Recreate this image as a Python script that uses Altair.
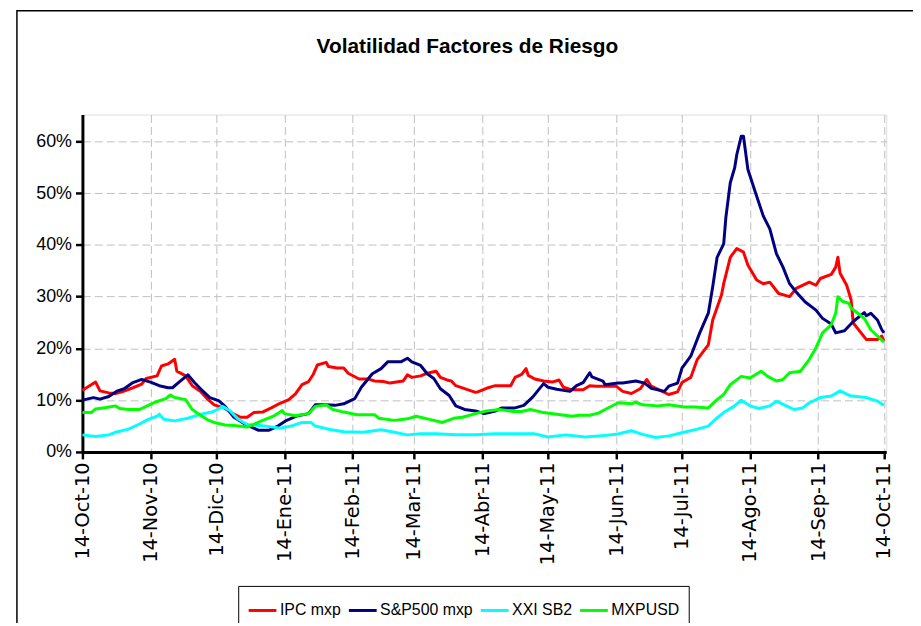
import altair as alt
import pandas as pd

START = "2010-10-14"
END_DOMAIN = "2011-10-15"
TITLE = "Volatilidad Factores de Riesgo"
SERIES = ["IPC mxp", "S&P500 mxp", "XXI SB2", "MXPUSD"]
COLORS = ["#FF0000", "#000080", "#00FFFF", "#00FF00"]
TICK_DATES = ["2010-10-14", "2010-11-14", "2010-12-14", "2011-01-14", "2011-02-14",
              "2011-03-14", "2011-04-14", "2011-05-14", "2011-06-14", "2011-07-14",
              "2011-08-14", "2011-09-14", "2011-10-14"]
Y_TICKS = [0, 0.1, 0.2, 0.3, 0.4, 0.5, 0.6]

# days since 14-Oct-2010, volatility in %
ipc_days = [0, 6, 8, 12, 15, 18, 23, 27, 29, 34, 36, 39, 42, 43, 47, 50, 54, 57, 60, 65,
            69, 72, 75, 78, 82, 86, 90, 94, 97, 100, 103, 105, 107, 111, 112, 116, 119, 121, 126, 130,
            133, 137, 140, 146, 148, 150, 154, 157, 161, 163, 166, 168, 170, 175, 179, 180, 184, 188, 195, 197,
            200, 202, 203, 206, 210, 214, 217, 219, 223, 228, 231, 234, 238, 243, 246, 250, 254, 257, 259, 264,
            267, 271, 273, 277, 280, 285, 287, 291, 292, 295, 298, 301, 303, 307, 310, 313, 317, 322, 325, 331,
            334, 336, 341, 343, 344, 345, 348, 350, 351, 354, 357, 362, 364, 365]
ipc_vals = [11.9, 13.5, 11.8, 11.4, 11.3, 11.6, 12.4, 13.1, 14.2, 14.7, 16.6, 17.0, 17.9, 15.6, 14.7, 12.8, 11.6, 10.2, 9.1, 8.4,
            7.3, 6.7, 6.7, 7.6, 7.7, 8.5, 9.4, 10.1, 11.2, 13.0, 13.6, 14.9, 16.8, 17.3, 16.5, 16.2, 16.2, 15.2, 14.1, 14.1,
            13.7, 13.6, 13.3, 13.7, 14.9, 14.4, 14.7, 15.2, 15.6, 14.4, 13.9, 13.7, 12.8, 12.1, 11.5, 11.6, 12.3, 12.8, 12.8, 14.4,
            15.0, 16.1, 14.8, 14.1, 13.7, 13.5, 13.9, 12.5, 12.0, 12.0, 12.8, 12.7, 12.7, 12.7, 11.7, 11.3, 12.2, 14.0, 12.7, 11.7,
            11.1, 11.6, 13.4, 14.4, 17.9, 20.7, 25.5, 30.3, 32.5, 37.6, 39.3, 38.6, 36.1, 33.2, 32.5, 32.8, 30.6, 30.0, 31.6, 32.8,
            32.2, 33.5, 34.3, 35.7, 37.6, 34.5, 32.2, 29.4, 24.9, 23.3, 21.7, 21.7, 22.4, 21.4]

sp_days = [0, 5, 8, 12, 16, 19, 23, 27, 31, 35, 39, 41, 44, 48, 51, 54, 58, 62, 65, 69,
           74, 77, 80, 85, 89, 93, 98, 103, 106, 111, 115, 119, 124, 127, 132, 136, 139, 145, 148, 150,
           154, 157, 160, 163, 167, 170, 174, 179, 183, 188, 191, 197, 201, 205, 210, 212, 216, 222, 225, 228,
           231, 232, 237, 238, 244, 246, 252, 256, 259, 265, 267, 271, 273, 277, 281, 285, 287, 289, 292, 293,
           295, 297, 298, 300, 301, 303, 306, 310, 313, 316, 319, 322, 325, 329, 334, 337, 341, 343, 347, 351,
           356, 357, 359, 362, 364, 365]
sp_vals = [10.0, 10.5, 10.2, 10.7, 11.8, 12.2, 13.4, 14.0, 13.5, 12.8, 12.4, 12.4, 13.5, 14.9, 13.4, 12.1, 10.5, 9.9, 8.8, 6.7,
           5.4, 4.8, 4.2, 4.2, 5.0, 6.1, 7.0, 7.4, 9.1, 9.1, 9.0, 9.3, 10.3, 12.5, 15.1, 16.1, 17.4, 17.4, 18.1, 17.4,
           16.7, 15.1, 14.2, 12.2, 10.9, 8.9, 8.2, 7.9, 7.4, 7.9, 8.5, 8.5, 9.0, 10.6, 13.2, 12.5, 12.1, 11.7, 12.8, 13.4,
           15.3, 14.5, 13.7, 13.0, 13.3, 13.3, 13.7, 13.3, 12.3, 11.7, 12.7, 13.3, 16.2, 18.5, 22.9, 26.8, 31.9, 37.6, 40.2, 45.3,
           52.0, 54.9, 57.5, 61.0, 61.0, 54.6, 50.7, 45.6, 43.1, 38.3, 35.7, 32.5, 30.9, 29.0, 27.4, 25.8, 24.7, 23.0, 23.4, 25.2,
           26.9, 26.3, 26.8, 25.5, 23.6, 23.0]

xxi_days = [0, 6, 12, 15, 21, 26, 30, 34, 35, 37, 42, 48, 54, 59, 62, 64, 67, 71, 75, 83,
            90, 95, 100, 104, 106, 112, 119, 128, 136, 142, 148, 154, 161, 170, 179, 188, 197, 206, 212, 220,
            229, 238, 243, 250, 255, 261, 267, 273, 280, 285, 289, 292, 297, 300, 304, 308, 313, 316, 320, 324,
            328, 331, 336, 341, 345, 350, 357, 362, 365]
xxi_vals = [3.3, 3.0, 3.3, 3.8, 4.4, 5.4, 6.3, 6.9, 7.3, 6.3, 6.0, 6.5, 7.3, 7.7, 8.3, 8.8, 8.0, 6.3, 5.3, 5.0,
            4.6, 5.0, 5.7, 5.7, 5.0, 4.4, 3.9, 3.8, 4.3, 3.8, 3.3, 3.5, 3.5, 3.3, 3.3, 3.5, 3.5, 3.5, 2.9, 3.3,
            2.9, 3.2, 3.4, 4.1, 3.4, 2.8, 3.1, 3.7, 4.4, 5.0, 6.6, 7.6, 8.9, 10.0, 8.9, 8.4, 8.9, 9.8, 9.0, 8.2,
            8.5, 9.5, 10.5, 10.8, 11.8, 10.8, 10.5, 9.8, 9.0]

mxp_days = [0, 4, 6, 11, 15, 17, 21, 26, 30, 33, 38, 40, 42, 47, 50, 53, 57, 60, 65, 69,
            75, 81, 87, 91, 92, 97, 103, 106, 111, 114, 119, 125, 133, 135, 142, 148, 152, 158, 164, 169,
            173, 179, 184, 190, 196, 200, 204, 210, 216, 223, 226, 231, 235, 238, 244, 250, 252, 255, 262, 267,
            274, 279, 285, 289, 292, 295, 300, 304, 309, 312, 316, 319, 322, 327, 331, 334, 337, 341, 343, 344,
            346, 349, 350, 356, 359, 362, 365]
mxp_vals = [7.6, 7.6, 8.3, 8.6, 8.9, 8.4, 8.2, 8.2, 9.0, 9.6, 10.3, 11.0, 10.5, 10.1, 8.2, 7.3, 6.2, 5.7, 5.2, 5.1,
            4.8, 5.9, 6.9, 8.0, 7.4, 7.0, 7.4, 8.8, 9.1, 8.2, 7.7, 7.2, 7.2, 6.5, 6.1, 6.4, 6.9, 6.3, 5.7, 6.5,
            6.7, 7.4, 7.9, 8.2, 7.8, 7.8, 8.2, 7.6, 7.3, 6.9, 7.1, 7.1, 7.5, 8.2, 9.5, 9.3, 9.6, 9.1, 8.9, 9.1,
            8.7, 8.7, 8.5, 10.1, 11.1, 13.0, 14.6, 14.3, 15.6, 14.6, 13.7, 14.0, 15.3, 15.6, 17.9, 20.1, 23.0, 24.6, 26.8, 30.0,
            29.1, 28.7, 27.8, 25.8, 23.6, 22.4, 21.2]

start = pd.Timestamp(START)
rows = []
for name, days, vals in zip(SERIES, [ipc_days, sp_days, xxi_days, mxp_days],
                            [ipc_vals, sp_vals, xxi_vals, mxp_vals]):
    for d, v in zip(days, vals):
        rows.append({"serie": name,
                     "fecha": (start + pd.Timedelta(days=d)).strftime("%Y-%m-%d"),
                     "vol": v / 100.0})
df = pd.DataFrame(rows)


def ms(s):
    return int(pd.Timestamp(s, tz="UTC").value // 10**6)


tick_ms = [ms(t) for t in TICK_DATES]
label_expr = ("utcFormat(datum.value, '%d') + '-' + "
              "['Ene','Feb','Mar','Abr','May','Jun','Jul','Ago','Sep','Oct','Nov','Dic'][utcmonth(datum.value)]"
              " + '-' + utcFormat(datum.value, '%y')")

FONT = "Liberation Sans"

lines = alt.Chart(df).mark_line(strokeWidth=3, strokeJoin="round").encode(
    x=alt.X("fecha:T",
            scale=alt.Scale(type="utc", domain=[ms(START), ms(END_DOMAIN)], nice=False),
            axis=alt.Axis(values=tick_ms, labelExpr=label_expr, labelAngle=270,
                          labelFont="DejaVu Sans", labelFontSize=19.5, labelColor="black",
                          labelPadding=3, tickSize=7, tickWidth=2.5, tickColor="black",
                          domainColor="black", domainWidth=3,
                          gridColor="#bfbfbf", gridDash=[8, 4], gridWidth=1,
                          labelOverlap=False, title=None)),
    y=alt.Y("vol:Q",
            scale=alt.Scale(domain=[0, 0.6517], nice=False, zero=True),
            axis=alt.Axis(values=Y_TICKS, format=".0%", labelFont=FONT, labelFontSize=18,
                          labelColor="black", labelPadding=4, tickSize=7, tickWidth=2.5,
                          tickColor="black", domainColor="black", domainWidth=3,
                          gridColor="#bfbfbf", gridDash=[8, 4], gridWidth=1, title=None)),
    color=alt.Color("serie:N",
                    scale=alt.Scale(domain=SERIES, range=COLORS),
                    sort=SERIES,
                    legend=alt.Legend(orient="none", legendX=157, legendY=475,
                                      direction="horizontal", columns=4, title=None,
                                      symbolType="stroke", symbolSize=784, symbolStrokeWidth=3,
                                      labelFont=FONT, labelFontSize=16, labelColor="black",
                                      strokeColor="black", padding=9, columnPadding=1,
                                      labelOffset=2)),
    order=alt.Order("fecha:T"),
)

frame = alt.Chart(pd.DataFrame({"k": [0]})).mark_rect(
    filled=False, stroke="black", strokeWidth=1.5, clip=False
).encode(x=alt.value(-66), x2=alt.value(860), y=alt.value(-104.5), y2=alt.value(620))

title = alt.Chart(pd.DataFrame({"t": [TITLE]})).mark_text(
    font=FONT, fontSize=21, fontWeight="bold", color="black",
    align="center", baseline="alphabetic", clip=False
).encode(text="t:N", x=alt.value(388), y=alt.value(-62.5))

chart = alt.layer(frame, lines, title).properties(
    width=810, height=340,
    autosize=alt.AutoSizeParams(type="none"),
    padding={"left": 75, "top": 105, "right": 27, "bottom": 170},
).configure_view(stroke="#808080", strokeWidth=1.5).configure(background="white")

chart.save("out.html", embed_options={"renderer": "svg", "actions": False})
